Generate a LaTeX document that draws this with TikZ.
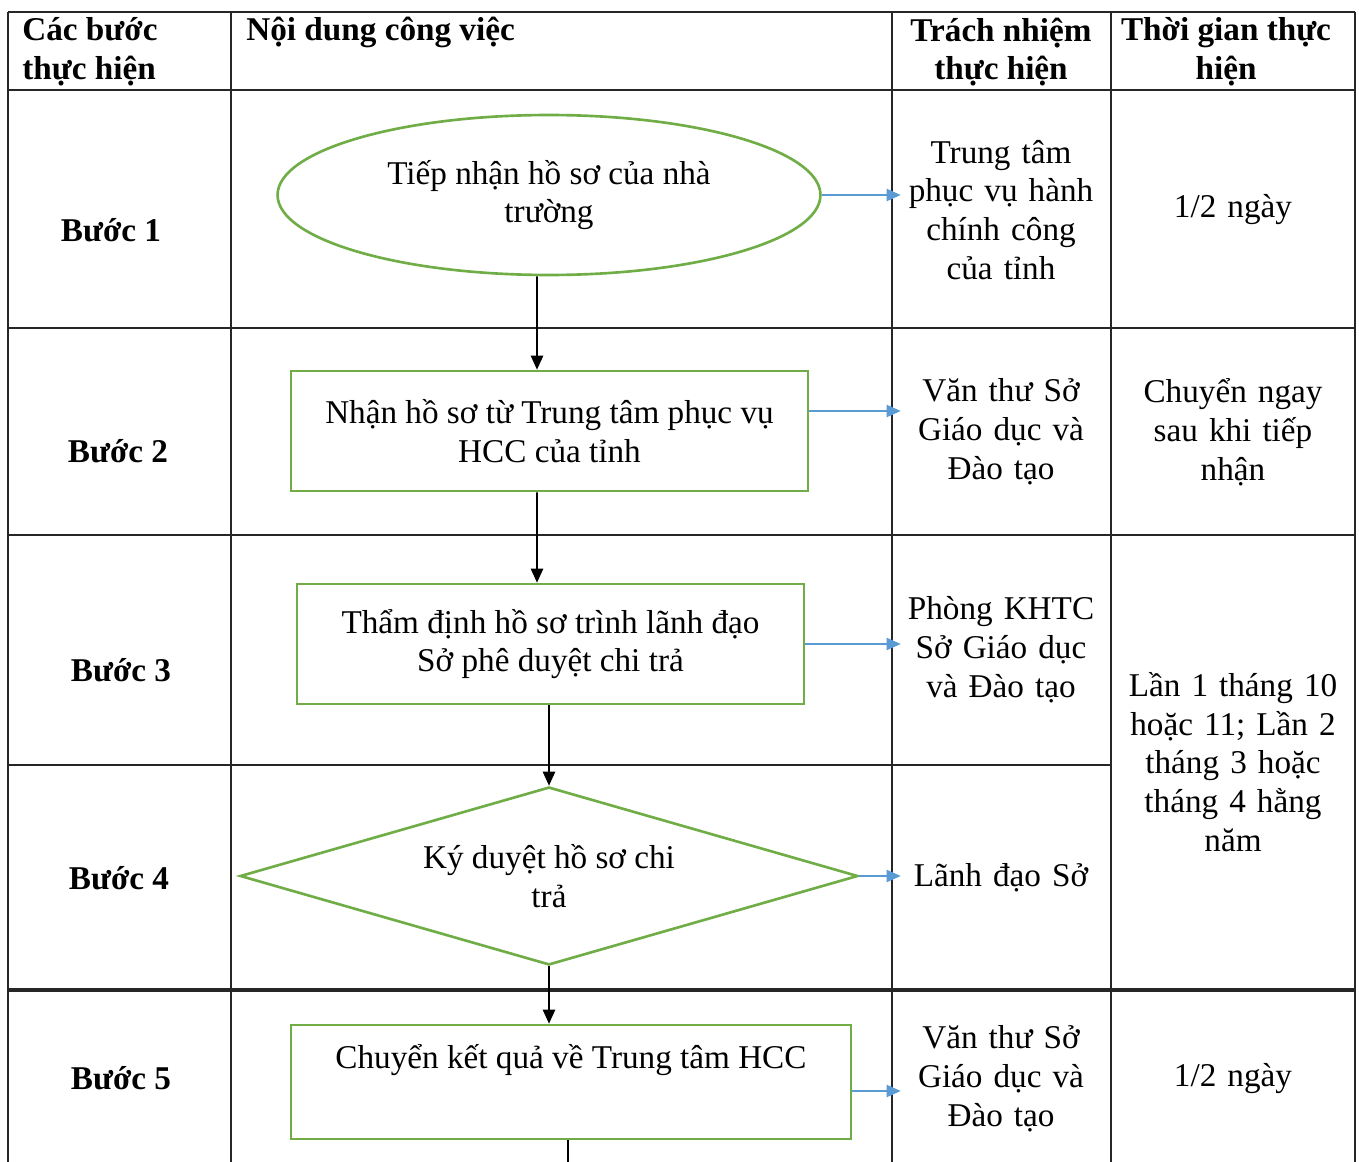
\documentclass[tikz,border=0pt]{standalone}
\usepackage{fontspec}
\setmainfont{Liberation Serif}
\usetikzlibrary{shapes.geometric,arrows.meta}

\definecolor{boxgreen}{HTML}{70AD47}
\definecolor{linkblue}{HTML}{5B9BD5}

\tikzset{
  grid/.style={draw=black!85,line width=0.8pt},
  stepbox/.style={draw=boxgreen,line width=1.5pt},
  flow/.style={draw=black,line width=1pt,-{Triangle[length=8pt,width=7pt]}},
  link/.style={draw=linkblue,line width=0.8pt,-{Triangle[length=8pt,width=7pt]}},
  head/.style={font=\fontsize{18.9}{22.1}\selectfont\bfseries,inner sep=0pt}
}

\begin{document}
\begin{tikzpicture}
  [x=0.02cm,y=-0.02cm,every node/.style={font=\fontsize{18.9}{22.1}\selectfont,align=center,inner sep=0.1cm}]
  \useasboundingbox (0,0) rectangle (1359,1162);

  % table
  \foreach \x in {8,231,892,1111,1355}
    \draw[grid] (\x,12) -- (\x,1162);
  \foreach \y in {12,90,328,535}
    \draw[grid] (8,\y) -- (1355,\y);
  \draw[grid] (8,765) -- (1111,765);
  \draw[grid,line width=1.8pt] (8,990) -- (1355,990);

  % header
  \node[head,align=left,anchor=west] (hstep) at (22,52) {Các bước\\thực hiện};
  \node[head,anchor=west] (htask) at (246,32) {Nội dung công việc};
  \node[head] (hresp) at (1001,52) {Trách nhiệm\\thực hiện};
  \node[head] (htime) at (1226,52) {Thời gian thực\\hiện};

  % steps
  \node[head] (b1) at (111,230) {Bước 1};
  \node[head] (b2) at (118,451) {Bước 2};
  \node[head] (b3) at (121,670) {Bước 3};
  \node[head] (b4) at (119,878) {Bước 4};
  \node[head] (b5) at (121,1078) {Bước 5};

  % flow
  \node[stepbox,ellipse,minimum width=10.86cm,minimum height=3.2cm] (s1) at (549,195) {Tiếp nhận hồ sơ của nhà\\trường};
  \node[stepbox,rectangle,minimum width=10.34cm,minimum height=2.4cm] (s2) at (549.5,431) {Nhận hồ sơ từ Trung tâm phục vụ\\HCC của tỉnh};
  \node[stepbox,rectangle,minimum width=10.14cm,minimum height=2.4cm] (s3) at (550.5,644) {Thẩm định hồ sơ trình lãnh đạo\\Sở phê duyệt chi trả};
  \node[stepbox,diamond,aspect=3.47,inner sep=1pt,minimum width=12.36cm,minimum height=3.56cm] (s4) at (549,876) {Ký duyệt hồ sơ chi\\trả};
  \node[stepbox,rectangle,minimum width=11.2cm,minimum height=2.28cm] (s5) at (571,1082) {Chuyển kết quả về Trung tâm HCC\\\strut};
  \coordinate (out) at (568,1162);

  % responsibility
  \node[text width=3.8cm] (r1) at (1001,210) {Trung tâm\\phục vụ hành\\chính công\\của tỉnh};
  \node[text width=3.8cm] (r2) at (1001,432) {Văn thư Sở\\Giáo dục và\\Đào tạo};
  \node[text width=3.8cm] (r3) at (1001,650) {Phòng KHTC\\Sở Giáo dục\\và Đào tạo};
  \node[text width=3.8cm] (r4) at (1001,878) {Lãnh đạo Sở};
  \node[text width=3.8cm] (r5) at (1001,1079) {Văn thư Sở\\Giáo dục và\\Đào tạo};

  % time
  \node[text width=4.4cm] (t1) at (1233,210) {1/2 ngày};
  \node[text width=4.4cm] (t2) at (1233,432) {Chuyển ngay\\sau khi tiếp\\nhận};
  \node[text width=4.4cm] (t3) at (1233,762) {Lần 1 tháng 10\\hoặc 11; Lần 2\\tháng 3 hoặc\\tháng 4 hằng\\năm};
  \node[text width=4.4cm] (t5) at (1233,1079) {1/2 ngày};

  \draw[flow] ([xshift=-0.24cm]s1.south) -- ([xshift=-0.25cm]s2.north);
  \draw[flow] ([xshift=-0.25cm]s2.south) -- ([xshift=-0.27cm]s3.north);
  \draw[flow] (s3.south -| s4.north) -- (s4.north);
  \draw[flow] (s4.south) -- (s4.south |- s5.north);
  \draw[black,line width=1pt] (s5.south -| out) -- (out);

  \draw[link] (s1.east) -- (s1.east -| r1.west);
  \draw[link] ([yshift=0.4cm]s2.east) -- ([yshift=0.4cm]s2.east -| r2.west);
  \draw[link] (s3.east) -- (s3.east -| r3.west);
  \draw[link] (s4.east) -- (s4.east -| r4.west);
  \draw[link] ([yshift=-0.18cm]s5.east) -- ([yshift=-0.18cm]s5.east -| r5.west);
\end{tikzpicture}
\end{document}
